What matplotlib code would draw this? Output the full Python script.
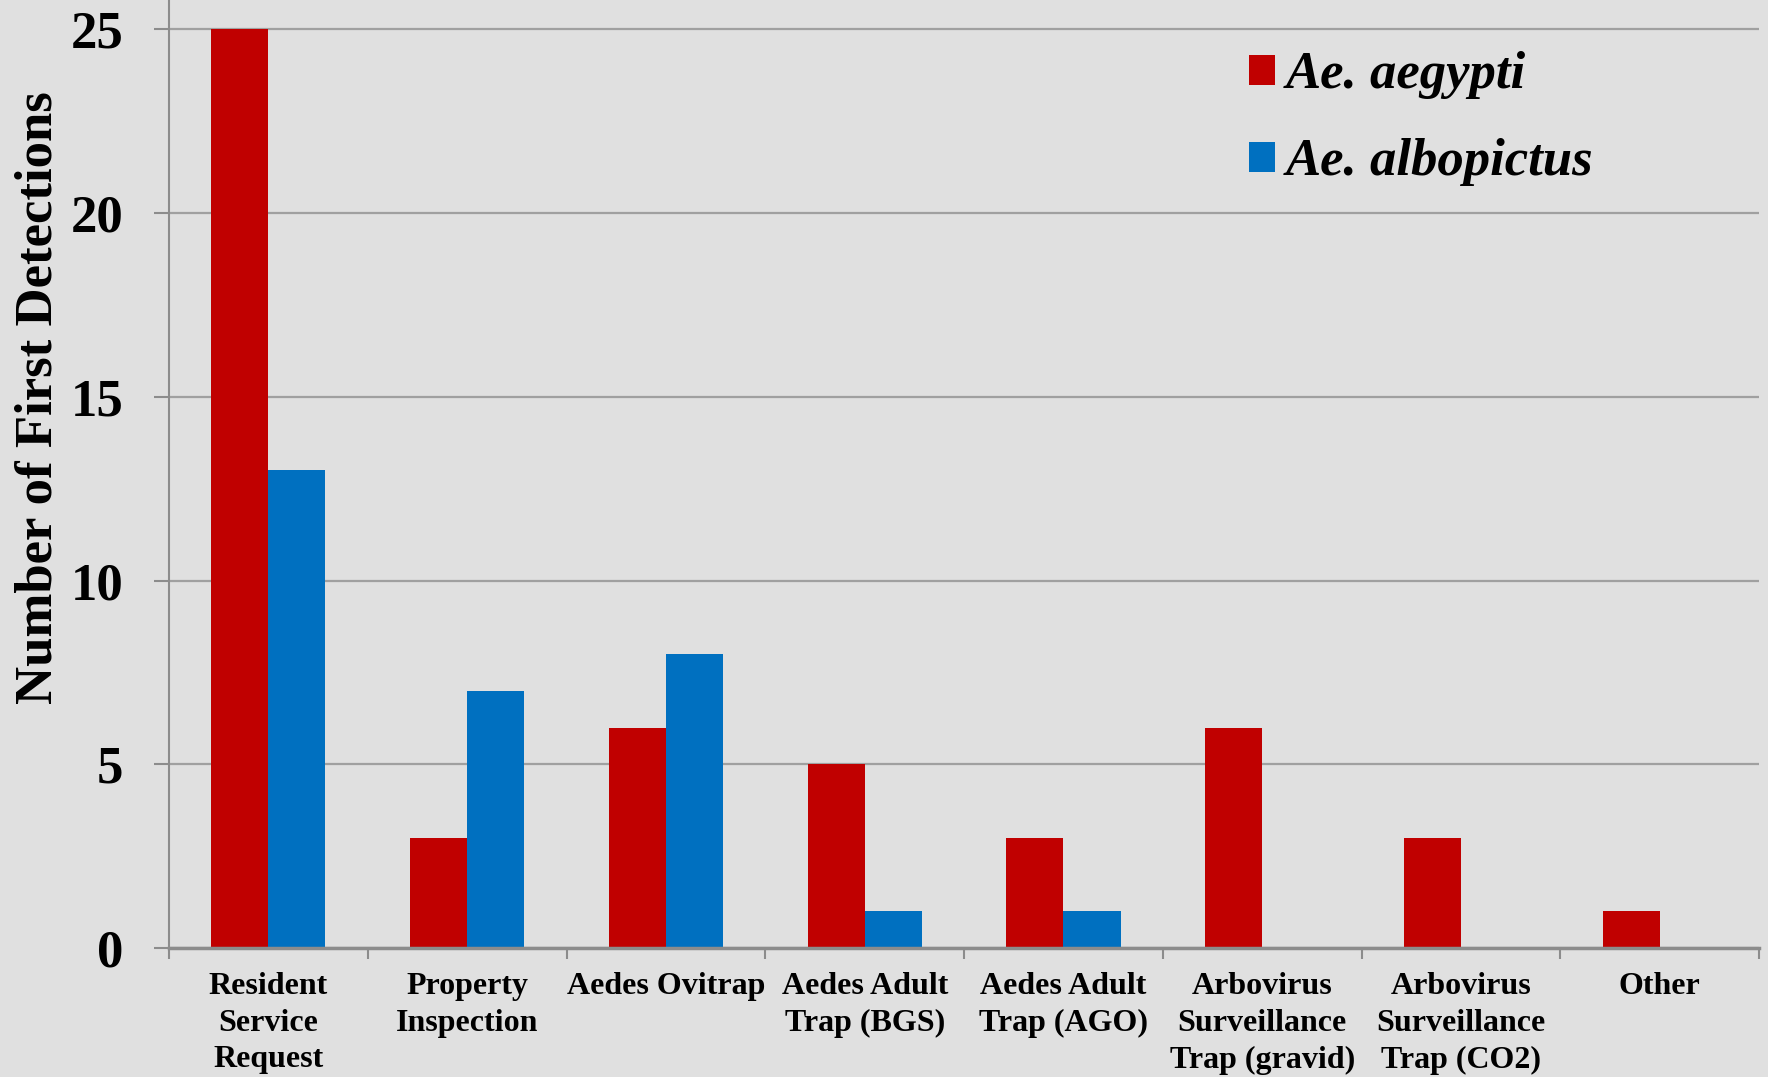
import numpy as np
import matplotlib.pyplot as plt

# data
categories = ["Resident\nService\nRequest", "Property\nInspection", "Aedes Ovitrap",
              "Aedes Adult\nTrap (BGS)", "Aedes Adult\nTrap (AGO)",
              "Arbovirus\nSurveillance\nTrap (gravid)", "Arbovirus\nSurveillance\nTrap (CO2)",
              "Other"]
aegypti = [25, 3, 6, 5, 3, 6, 3, 1]
albopictus = [13, 7, 8, 1, 1, 0, 0, 0]
series_names = ["Ae. aegypti", "Ae. albopictus"]

plt.rcParams['font.family'] = ['Liberation Serif', 'DejaVu Serif']
bg = "#e0e0e0"

fig = plt.figure(figsize=(17.68, 10.77), dpi=100, facecolor=bg)
ax = fig.add_axes([0.0956, 0.1198, 0.8994, 0.8802], facecolor=bg)

x = np.arange(len(categories))
w = 0.287
ax.bar(x - w / 2, aegypti, width=w, color="#c00000", label=series_names[0], zorder=3)
ax.bar(x + w / 2, albopictus, width=w, color="#0070c0", label=series_names[1], zorder=3)

ax.set_xlim(-0.5, len(categories) - 0.5)
ax.set_ylim(0, 25.8)
ax.set_yticks([0, 5, 10, 15, 20, 25])
ax.yaxis.grid(True, color="#a0a0a0", linewidth=1.6, zorder=0)
ax.tick_params(axis='y', length=11, width=1.5, color="#8c8c8c", pad=22, labelsize=38)
for lab in ax.get_yticklabels():
    lab.set_fontweight('bold')

# ticks between categories, labels at centers
ax.set_xticks(np.arange(len(categories) + 1) - 0.5)
ax.set_xticklabels([])
ax.tick_params(axis='x', which='major', length=8, width=1.5, color="#8c8c8c")
ax.set_xticks(x, minor=True)
ax.set_xticklabels(categories, minor=True, fontsize=23, fontweight='bold', linespacing=1.36)
ax.tick_params(axis='x', which='minor', length=0, pad=17)

for s in ['top', 'right']:
    ax.spines[s].set_visible(False)
ax.spines['left'].set_color("#8c8c8c")
ax.spines['left'].set_linewidth(1.5)
ax.spines['bottom'].set_color("#8c8c8c")
ax.spines['bottom'].set_linewidth(2.5)
ax.spines['bottom'].set_zorder(4)

ax.set_ylabel("Number of First Detections", fontsize=38, fontweight='bold')
ax.yaxis.set_label_coords(-0.067, 0.581)

ax.legend(loc='upper left', bbox_to_anchor=(0.649, 0.996), frameon=False,
          prop={'size': 38, 'weight': 'bold', 'style': 'italic'},
          handlelength=0.5, handleheight=0.5, handletextpad=0.2, labelspacing=0.74)

fig.savefig("out.png", dpi=100, facecolor=bg)
